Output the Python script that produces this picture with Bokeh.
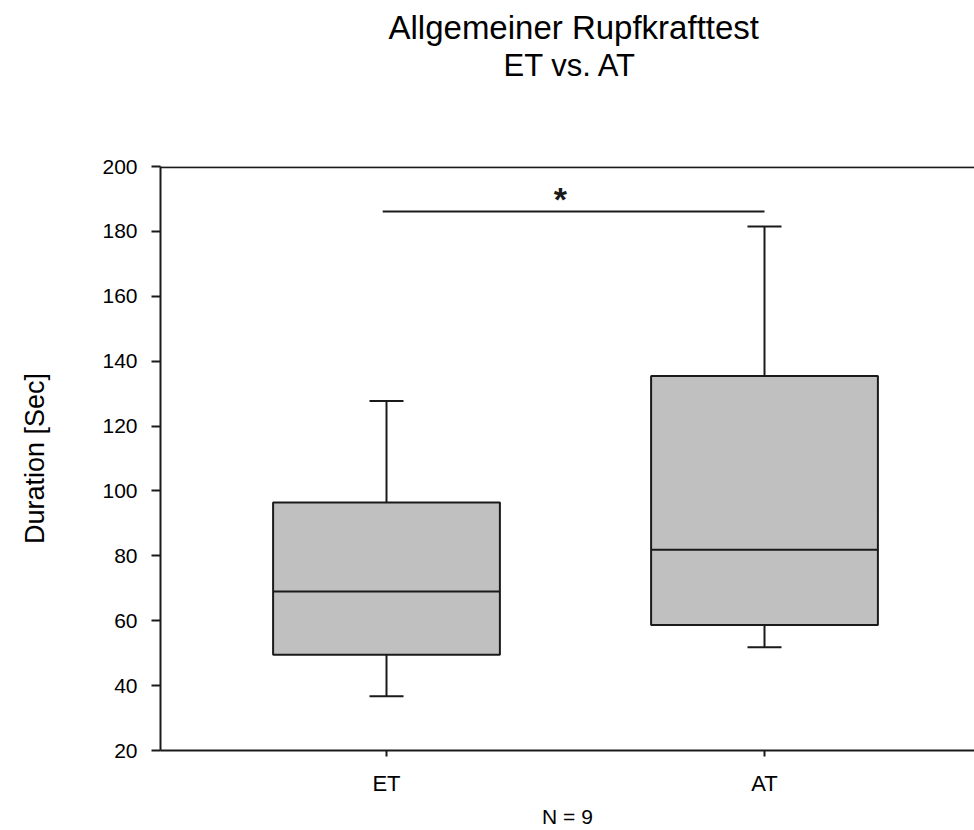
from bokeh.plotting import figure
from bokeh.models import Range1d, FixedTicker, Span, Title
from bokeh.core.properties import value
from bokeh.embed import file_html
from bokeh.resources import INLINE

# ---- data ----
categories = ["ET", "AT"]
cat_pos = [1, 2]
whisker_low = [36.7, 51.8]
q1 = [49.5, 58.7]
median = [69.0, 81.9]
q3 = [96.4, 135.4]
whisker_high = [127.7, 181.5]
y_ticks = [20, 40, 60, 80, 100, 120, 140, 160, 180, 200]
sig_x = [0.99, 2.0]
sig_y = 186.1
sig_label = "*"
title_lines = ["Allgemeiner Rupfkrafttest", "ET vs. AT"]
n_label = "N = 9"
y_label = "Duration [Sec]"

FONT = "Liberation Sans"
DARK = "#1a1a1a"
BOX_W = 0.6
CAP_W = 0.09
PX_PER_UNIT = 378.0

W, H = 974, 830
BL, BT, BB = 160, 166, 80
x_start = 1 - 226 / PX_PER_UNIT
x_end = x_start + (W - BL) / PX_PER_UNIT

p = figure(width=W, height=H, output_backend="svg", toolbar_location=None,
           x_range=Range1d(x_start, x_end), y_range=Range1d(20, 200),
           min_border_left=BL, min_border_top=BT, min_border_bottom=BB,
           min_border_right=0)
p.outline_line_color = None
p.xgrid.visible = False
p.ygrid.visible = False
p.background_fill_color = "white"
p.border_fill_color = "white"

# boxes
left = [c - BOX_W / 2 for c in cat_pos]
right = [c + BOX_W / 2 for c in cat_pos]
p.quad(left=left, right=right, bottom=q1, top=q3, fill_color="#c0c0c0",
       line_color=DARK, line_width=2)
p.segment(x0=left, x1=right, y0=median, y1=median, line_color=DARK, line_width=2)
# whiskers
p.segment(x0=cat_pos, x1=cat_pos, y0=q3, y1=whisker_high, line_color=DARK, line_width=2)
p.segment(x0=cat_pos, x1=cat_pos, y0=q1, y1=whisker_low, line_color=DARK, line_width=2)
cl = [c - CAP_W / 2 for c in cat_pos]
cr = [c + CAP_W / 2 for c in cat_pos]
p.segment(x0=cl, x1=cr, y0=whisker_high, y1=whisker_high, line_color=DARK, line_width=2)
p.segment(x0=cl, x1=cr, y0=whisker_low, y1=whisker_low, line_color=DARK, line_width=2)

# significance bar
p.line(x=sig_x, y=[sig_y, sig_y], line_color=DARK, line_width=2)
p.text(x=[1.46], y=[sig_y + 3.8], text=[sig_label], text_font=value(FONT),
       text_font_size="34px", text_font_style="bold", text_align="center",
       text_baseline="middle", text_color=DARK)

# top frame line
p.add_layout(Span(location=199.8, dimension="width", line_color=DARK, line_width=2))

# axes
p.yaxis.ticker = FixedTicker(ticks=y_ticks)
p.yaxis.minor_tick_line_color = None
p.yaxis.major_tick_out = 9
p.yaxis.major_tick_in = 0
p.yaxis.major_tick_line_width = 2
p.yaxis.major_tick_line_color = DARK
p.yaxis.axis_line_width = 2
p.yaxis.axis_line_color = DARK
p.yaxis.major_label_text_font = FONT
p.yaxis.major_label_text_font_size = "21px"
p.yaxis.major_label_text_color = "black"
p.yaxis.major_label_standoff = 14
p.yaxis.axis_label = y_label
p.yaxis.axis_label_text_font = FONT
p.yaxis.axis_label_text_font_size = "27px"
p.yaxis.axis_label_text_font_style = "normal"
p.yaxis.axis_label_text_color = "black"
p.yaxis.axis_label_standoff = 49

p.xaxis.ticker = FixedTicker(ticks=cat_pos)
p.xaxis.major_label_overrides = {c: n for c, n in zip(cat_pos, categories)}
p.xaxis.minor_tick_line_color = None
p.xaxis.major_tick_out = 6
p.xaxis.major_tick_in = 0
p.xaxis.major_tick_line_width = 2
p.xaxis.major_tick_line_color = DARK
p.xaxis.axis_line_width = 2
p.xaxis.axis_line_color = DARK
p.xaxis.major_label_text_font = FONT
p.xaxis.major_label_text_font_size = "22px"
p.xaxis.major_label_text_color = "black"
p.xaxis.major_label_standoff = 14
p.xaxis.axis_label = n_label
p.xaxis.axis_label_text_font = FONT
p.xaxis.axis_label_text_font_size = "21px"
p.xaxis.axis_label_text_font_style = "normal"
p.xaxis.axis_label_text_color = "black"
p.xaxis.axis_label_standoff = 6

# spacer between frame and title block, then the two title lines
p.add_layout(Title(text=" ", text_font_size="1px", standoff=81), "above")
p.add_layout(Title(text=title_lines[1], align="left", offset=343, text_font=FONT,
                   text_font_size="31px", text_font_style="normal",
                   text_color="black", standoff=0), "above")
p.add_layout(Title(text=title_lines[0], align="left", offset=228, text_font=FONT,
                   text_font_size="33px", text_font_style="normal",
                   text_color="black", standoff=0), "above")

open("out.html", "w").write(file_html(p, INLINE))
